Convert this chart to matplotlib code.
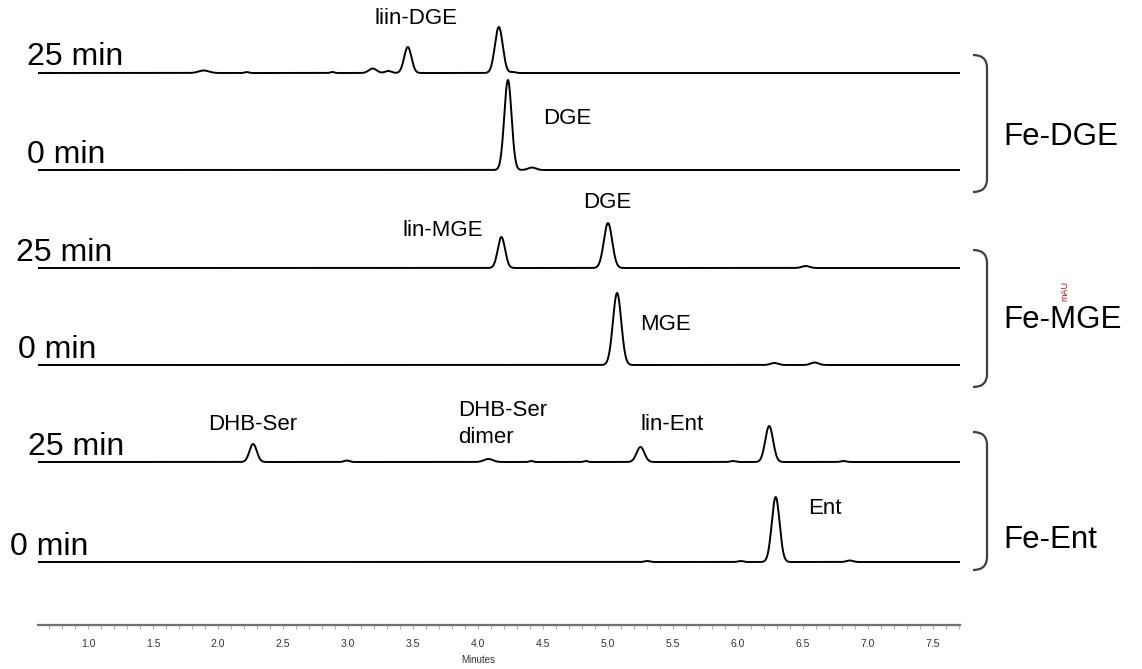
import numpy as np
import matplotlib
matplotlib.use("Agg")
import matplotlib.pyplot as plt
from matplotlib.path import Path
from matplotlib.patches import PathPatch
from matplotlib.transforms import Affine2D
from matplotlib.ticker import MultipleLocator, FormatStrFormatter

plt.rcParams['font.family'] = ['Liberation Sans', 'DejaVu Sans']

# ---- data (retention time [min], height [mAU-ish], peak sigma [min]) ----
rt_dge_25 = [1.89, 2.22, 2.88, 3.19, 3.31, 3.46, 4.16, 4.27]
h_dge_25 = [2.5, 1.0, 1.0, 4.5, 2.0, 26, 46, 1.0]
w_dge_25 = [0.04, 0.015, 0.015, 0.03, 0.025, 0.028, 0.03, 0.02]

rt_dge_0 = [4.23, 4.415]
h_dge_0 = [90, 2.5]
w_dge_0 = [0.028, 0.03]

rt_mge_25 = [4.18, 5.00, 6.52]
h_mge_25 = [31, 45, 2.0]
w_mge_25 = [0.028, 0.032, 0.03]

rt_mge_0 = [5.07, 6.28, 6.59]
h_mge_0 = [72, 2.0, 2.5]
w_mge_0 = [0.032, 0.03, 0.03]

rt_ent_25 = [2.27, 2.99, 4.08, 4.41, 4.83, 5.25, 5.96, 6.24, 6.81]
h_ent_25 = [18, 1.5, 3.0, 1.0, 1.0, 15, 1.0, 36, 1.0]
w_ent_25 = [0.028, 0.02, 0.035, 0.015, 0.015, 0.03, 0.02, 0.03, 0.02]

rt_ent_0 = [5.30, 6.02, 6.29, 6.86]
h_ent_0 = [1.0, 1.0, 65, 1.5]
w_ent_0 = [0.02, 0.02, 0.03, 0.025]

time_labels = ["25 min", "0 min", "25 min", "0 min", "25 min", "0 min"]
group_labels = ["Fe-DGE", "Fe-MGE", "Fe-Ent"]
xticks = [1.0, 1.5, 2.0, 2.5, 3.0, 3.5, 4.0, 4.5, 5.0, 5.5, 6.0, 6.5, 7.0, 7.5]

traces = [
    (rt_dge_25, h_dge_25, w_dge_25),
    (rt_dge_0, h_dge_0, w_dge_0),
    (rt_mge_25, h_mge_25, w_mge_25),
    (rt_mge_0, h_mge_0, w_mge_0),
    (rt_ent_25, h_ent_25, w_ent_25),
    (rt_ent_0, h_ent_0, w_ent_0),
]

# ---- layout ----
W, H = 1142, 669
fig = plt.figure(figsize=(W / 100, H / 100), dpi=100)
px = Affine2D().scale(1 / W, -1 / H).translate(0, 1) + fig.transFigure

ax = fig.add_axes([38 / W, 1 - 625 / H, 922 / W, 625 / H])
ax.patch.set_alpha(0)
tmin, tmax = 0.615, 7.708
ax.set_xlim(tmin, tmax)
ax.set_ylim(0, 625)

offsets = [552, 455, 357, 260, 163, 63]
t = np.linspace(tmin, tmax, 4000)
for (rts, hs, ws), off in zip(traces, offsets):
    y = np.zeros_like(t)
    for r, h, w in zip(rts, hs, ws):
        y += h * np.exp(-0.5 * ((t - r) / w) ** 2)
    ax.plot(t, y + off, color='black', lw=1.4, solid_joinstyle='round')

for s in ['left', 'right', 'top']:
    ax.spines[s].set_visible(False)
ax.spines['bottom'].set_color('#707070')
ax.spines['bottom'].set_linewidth(1.6)
ax.set_yticks([])
ax.set_xticks(xticks)
ax.xaxis.set_major_formatter(FormatStrFormatter('%.1f'))
ax.xaxis.set_minor_locator(MultipleLocator(0.1))
ax.tick_params(axis='x', which='both', direction='out', length=3, width=0.8,
               color='#b0b0b0', labelsize=7.5, labelcolor='#333333', pad=7)

fig.text(478 / W, 1 - 660 / H, "Minutes", fontsize=7, color='#333333',
         ha='center', va='center')

# time labels
lab_x = [27, 27, 16, 18, 28, 10]
lab_y = [65, 163, 261, 358, 455, 555]
for s, lx, ly in zip(time_labels, lab_x, lab_y):
    fig.text(lx, ly, s, transform=px, fontsize=23, ha='left', va='baseline')

# peak labels
peak_texts = [
    ("liin-DGE", 416, 18, 'center'),
    ("DGE", 567, 118, 'center'),
    ("DGE", 607, 202, 'center'),
    ("lin-MGE", 443, 230, 'center'),
    ("MGE", 666, 325, 'center'),
    ("DHB-Ser", 253, 425, 'center'),
    ("DHB-Ser\ndimer", 458, 424, 'left'),
    ("lin-Ent", 672, 425, 'center'),
    ("Ent", 825, 508, 'center'),
]
for s, lx, ly, ha in peak_texts:
    fig.text(lx, ly, s, transform=px, fontsize=16, ha=ha, va='center',
             linespacing=1.35)

# group labels + brackets
grp_y = [137, 320, 540]
br = [(55, 192), (250, 387), (432, 570)]
for s, gy, (top, bot) in zip(group_labels, grp_y, br):
    fig.text(1003, gy, s, transform=px, fontsize=22.5, ha='left', va='center')
    verts = [(973, top), (987, top), (987, top + 13), (987, bot - 13),
             (987, bot), (973, bot)]
    codes = [Path.MOVETO, Path.CURVE3, Path.CURVE3, Path.LINETO,
             Path.CURVE3, Path.CURVE3]
    fig.add_artist(PathPatch(Path(verts, codes), transform=px, fill=False,
                             edgecolor='#404040', lw=1.6))

fig.text(1065, 291, "mAU", transform=px, fontsize=6.5, color='#b22222',
         rotation=90, ha='center', va='center')

fig.savefig("out.png", dpi=100)
